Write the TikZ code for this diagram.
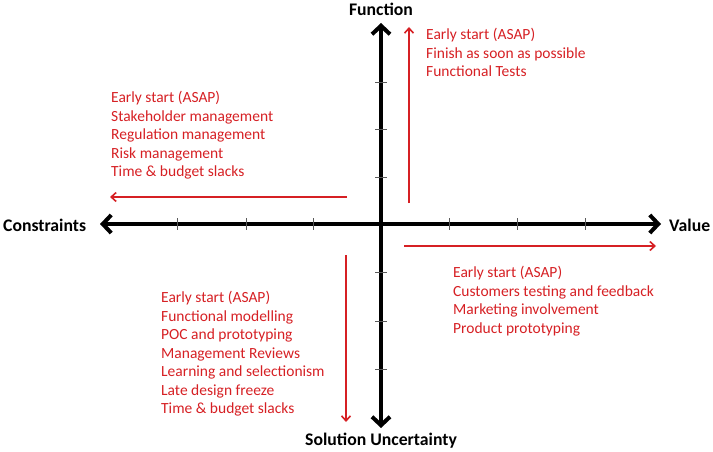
\documentclass[tikz,border=0pt]{standalone}
\usepackage{fontspec}
\setmainfont{Carlito}
\usetikzlibrary{arrows.meta}
\definecolor{myred}{RGB}{214,32,36}
\definecolor{tickgray}{RGB}{90,90,90}
\begin{document}
\begin{tikzpicture}[x=1pt,y=-1pt,
  axisline/.style={line width=4pt, black, {Straight Barb[length=8.5pt,width=18pt]}-{Straight Barb[length=8.5pt,width=18pt]}},
  tickmark/.style={line width=0.9pt, tickgray},
  redarrow/.style={line width=1.6pt, myred, -{Straight Barb[length=5pt,width=9pt]}},
  axislabel/.style={font=\fontsize{17.7}{21}\selectfont\bfseries, inner sep=0pt},
  redtext/.style={font=\fontsize{15.5}{18.5}\selectfont, text=myred, align=left, anchor=north west, inner sep=0pt}]
\useasboundingbox (0,0) rectangle (713,452);
% axes
\coordinate (O) at (381,224);
\coordinate (L) at (100,224);
\coordinate (R) at (661,224);
\coordinate (T) at (381,23);
\coordinate (B) at (381,428);
\draw[axisline] (L) -- (R);
\draw[axisline] (B) -- (T);
% ticks
\foreach \x in {177,246,313,449,517,585} \draw[tickmark] (\x,218) -- (\x,230);
\foreach \y in {82,129,177,272,321,369} \draw[tickmark] (375,\y) -- (387,\y);
% axis labels
\node[axislabel, anchor=base] (fun) at (381,15.5) {Function};
\node[axislabel, anchor=base west] (con) at (3,231) {Constraints};
\node[axislabel, anchor=base west] (val) at (669,231) {Value};
\node[axislabel, anchor=base] (sol) at (381,445.5) {Solution Uncertainty};
% red arrows
\coordinate (fa) at (409,203); \coordinate (fb) at (409,27);
\coordinate (ca) at (347,197); \coordinate (cb) at (110,197);
\coordinate (va) at (404,246); \coordinate (vb) at (656,246);
\coordinate (sa) at (346,255); \coordinate (sb) at (346,422);
\draw[redarrow] (fa) -- (fb);
\draw[redarrow] (ca) -- (cb);
\draw[redarrow] (va) -- (vb);
\draw[redarrow] (sa) -- (sb);
% red texts
\node[redtext] (tfun) at (426,28) {Early start (ASAP)\\Finish as soon as possible\\Functional Tests};
\node[redtext] (tcon) at (111,91) {Early start (ASAP)\\Stakeholder management\\Regulation management\\Risk management\\Time \& budget slacks};
\node[redtext] (tval) at (453,266) {Early start (ASAP)\\Customers testing and feedback\\Marketing involvement\\Product prototyping};
\node[redtext] (tsol) at (161,291) {Early start (ASAP)\\Functional modelling\\POC and prototyping\\Management Reviews\\Learning and selectionism\\Late design freeze\\Time \& budget slacks};
\end{tikzpicture}
\end{document}
